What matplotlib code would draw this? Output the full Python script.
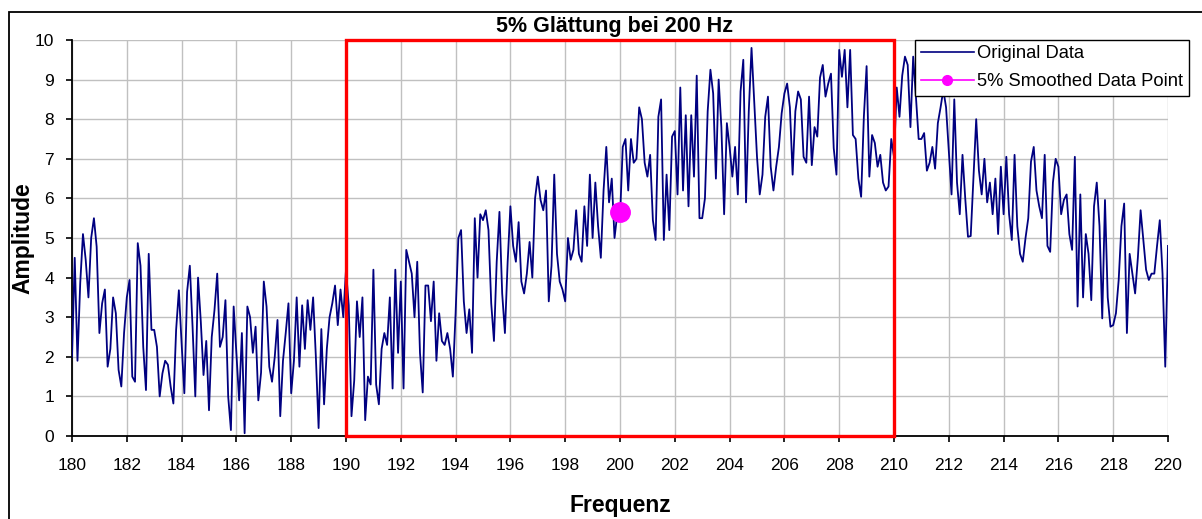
import numpy as np
import matplotlib
matplotlib.use("Agg")
import matplotlib.pyplot as plt
from matplotlib.lines import Line2D
from matplotlib.patches import Rectangle

plt.rcParams['font.family'] = ['Liberation Sans', 'DejaVu Sans']

# measured amplitude, 10 samples per Hz from 180 Hz to 220 Hz
amplitude = [
    2.0, 4.5, 1.9, 3.86, 5.1, 4.45, 3.5, 5.0, 5.5, 4.78,        # 180
    2.6, 3.35, 3.7, 1.75, 2.2, 3.5, 3.1, 1.67, 1.25, 2.6,       # 181
    3.5, 3.94, 1.5, 1.37, 4.87, 4.3, 2.25, 1.16, 4.6, 2.68,     # 182
    2.68, 2.25, 1.0, 1.58, 1.9, 1.8, 1.25, 0.82, 2.68, 3.68,    # 183
    2.34, 1.08, 3.64, 4.3, 2.76, 1.0, 4.0, 2.9, 1.54, 2.4,      # 184
    0.65, 2.5, 3.18, 4.1, 2.25, 2.5, 3.43, 1.0, 0.15, 3.27,     # 185
    2.1, 0.9, 2.6, 0.07, 3.27, 3.0, 2.1, 2.76, 0.9, 1.6,        # 186
    3.9, 3.27, 1.75, 1.37, 2.0, 2.93, 0.5, 1.9, 2.6, 3.35,      # 187
    1.08, 1.9, 3.5, 1.75, 3.3, 2.2, 3.43, 2.68, 3.5, 2.0,       # 188
    0.2, 2.7, 0.8, 2.2, 3.0, 3.35, 3.8, 2.8, 3.7, 3.0,          # 189
    4.2, 3.3, 0.5, 1.4, 3.4, 2.5, 3.5, 0.4, 1.5, 1.3,           # 190
    4.2, 1.3, 0.8, 2.2, 2.6, 2.3, 3.5, 1.2, 4.2, 2.1,           # 191
    3.9, 1.2, 4.7, 4.4, 4.1, 3.0, 4.4, 2.1, 1.1, 3.8,           # 192
    3.8, 2.9, 3.9, 1.9, 3.1, 2.4, 2.3, 2.6, 2.2, 1.5,           # 193
    3.1, 5.0, 5.2, 3.4, 2.6, 3.2, 2.1, 5.5, 4.0, 5.6,           # 194
    5.45, 5.7, 5.2, 3.35, 2.4, 4.4, 5.66, 3.6, 2.6, 4.4,        # 195
    5.8, 4.8, 4.4, 5.4, 3.9, 3.6, 4.1, 4.9, 4.0, 6.0,           # 196
    6.55, 5.96, 5.7, 6.2, 3.4, 4.3, 6.6, 4.6, 3.9, 3.7,         # 197
    3.4, 5.0, 4.45, 4.7, 5.7, 4.6, 4.4, 5.8, 4.8, 6.6,          # 198
    5.0, 6.4, 5.3, 4.5, 6.2, 7.3, 5.9, 6.5, 5.0, 5.6,           # 199
    5.5, 7.3, 7.5, 6.2, 7.5, 6.9, 7.0, 8.3, 8.0, 6.9,           # 200
    6.55, 7.1, 5.45, 4.95, 8.06, 8.5, 4.95, 6.6, 5.2, 7.56,     # 201
    7.7, 6.1, 8.8, 6.2, 8.1, 5.8, 8.1, 6.55, 9.1, 5.5,          # 202
    5.5, 6.0, 8.2, 9.25, 8.65, 6.5, 9.0, 7.8, 5.6, 7.9,         # 203
    7.3, 6.55, 7.3, 6.1, 8.7, 9.5, 5.9, 8.2, 9.8, 8.4,          # 204
    7.05, 6.1, 6.6, 8.06, 8.57, 6.8, 6.2, 6.8, 7.3, 8.15,       # 205
    8.65, 8.9, 8.3, 6.6, 8.2, 8.7, 8.5, 7.05, 6.9, 8.57,        # 206
    6.84, 7.8, 7.56, 9.05, 9.37, 8.57, 8.9, 9.15, 7.27, 6.6,    # 207
    9.75, 9.07, 9.75, 8.3, 9.75, 7.6, 7.5, 6.5, 6.04, 8.06,     # 208
    9.34, 6.55, 7.6, 7.4, 6.8, 7.1, 6.4, 6.2, 6.3, 7.5,         # 209
    7.05, 8.8, 8.06, 9.1, 9.58, 9.37, 7.8, 9.58, 8.57, 7.5,     # 210
    7.5, 7.65, 6.7, 6.9, 7.3, 6.75, 7.9, 8.3, 8.74, 8.3,        # 211
    7.2, 6.1, 8.5, 6.4, 5.6, 7.1, 6.0, 5.03, 5.05, 6.5,         # 212
    8.0, 6.7, 6.1, 7.0, 5.9, 6.4, 5.6, 6.5, 5.1, 6.8,           # 213
    5.6, 7.05, 5.6, 4.95, 7.1, 5.3, 4.6, 4.4, 5.0, 5.5,         # 214
    6.93, 7.3, 6.2, 5.8, 5.5, 7.1, 4.8, 4.65, 6.4, 7.0,         # 215
    6.8, 5.6, 5.96, 6.1, 5.1, 4.7, 7.05, 3.27, 6.1, 3.5,        # 216
    5.1, 4.6, 3.43, 5.8, 6.4, 5.3, 2.97, 5.96, 3.5, 2.76,       # 217
    2.8, 3.1, 3.94, 5.3, 5.87, 2.6, 4.6, 4.1, 3.6, 4.5,         # 218
    5.7, 4.95, 4.2, 3.94, 4.1, 4.1, 4.8, 5.45, 4.1, 1.75,       # 219
    4.8,                                                         # 220
]
freq = np.linspace(180, 220, len(amplitude))

smooth_freq = [200]
smooth_amp = [5.65]

window = (190, 210)
x_ticks = list(range(180, 221, 2))
y_ticks = list(range(0, 11))

W, H = 1202, 519
fig = plt.figure(figsize=(W / 100, H / 100), dpi=100)
ax = fig.add_axes([72 / W, 1 - 436 / H, (1168 - 72) / W, (436 - 40) / H])

# outer chart border
fig.patches.append(Rectangle((9 / W, -0.1), 1.2, 1 - 12 / H + 0.1, transform=fig.transFigure,
                             fill=False, edgecolor='black', linewidth=1.3))

ax.plot(freq, amplitude, color='#000080', linewidth=1.3, zorder=3)
ax.plot(smooth_freq, smooth_amp, 'o', color='#ff00ff', markersize=14, zorder=4)

ax.add_patch(Rectangle((window[0], 0), window[1] - window[0], 10, fill=False,
                       edgecolor='#ff0000', linewidth=2.4, clip_on=False, zorder=5))

ax.set_xlim(180, 220)
ax.set_ylim(0, 10)
ax.set_xticks(x_ticks)
ax.set_yticks(y_ticks)
ax.grid(True, color='#c0c0c0', linewidth=1.0)
ax.set_axisbelow(True)
for s in ('top', 'right'):
    ax.spines[s].set_visible(False)
for s in ('left', 'bottom'):
    ax.spines[s].set_linewidth(1.3)
ax.tick_params(direction='out', length=4, width=1.2, labelsize=12.5)
ax.tick_params(axis='x', pad=12)
ax.tick_params(axis='y', pad=9)

ax.set_title('5% Glättung bei 200 Hz', fontsize=15.5, fontweight='bold', pad=6, x=0.495)
ax.set_xlabel('Frequenz', fontsize=16.5, fontweight='bold', labelpad=15)
ax.set_ylabel('Amplitude', fontsize=16.5, fontweight='bold', labelpad=0)

handles = [Line2D([], [], color='#000080', linewidth=1.2),
           Line2D([], [], color='#ff00ff', linewidth=1.2, marker='o', markersize=7)]
leg = fig.legend(handles, ['Original Data', '5% Smoothed Data Point'],
                 loc='upper left', bbox_to_anchor=(915 / W, 1 - 40 / H),
                 fontsize=13.2, frameon=True, fancybox=False, framealpha=1,
                 edgecolor='black', borderpad=0.3, handlelength=2.9,
                 handletextpad=0.2, labelspacing=0.6, borderaxespad=0)
leg.get_frame().set_linewidth(1.0)

fig.savefig('out.png', dpi=100)
